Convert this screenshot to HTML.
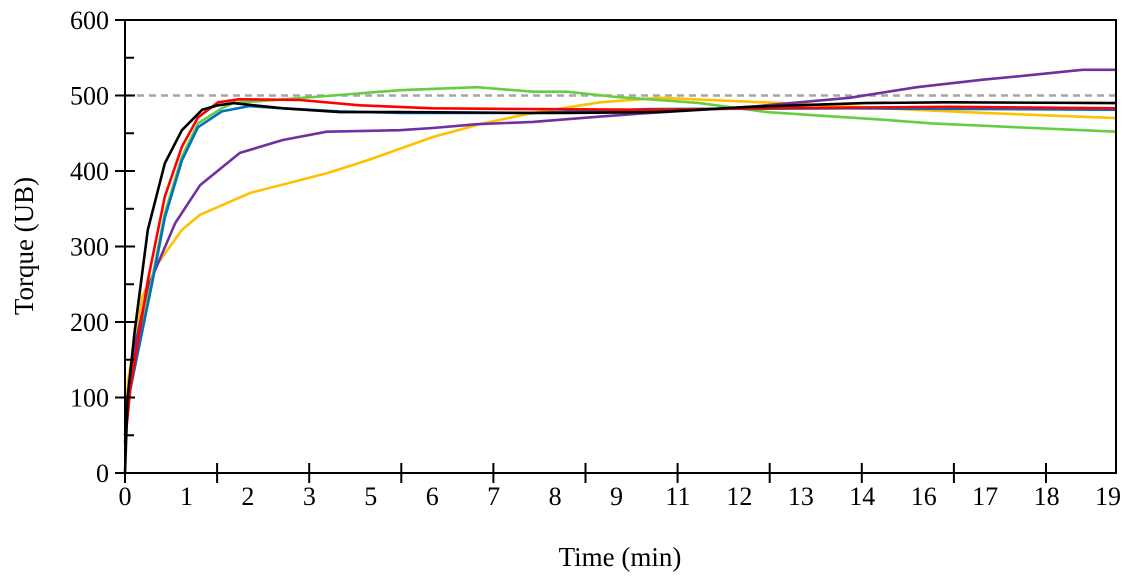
<!DOCTYPE html>
<html><head><meta charset="utf-8"><style>
body{margin:0;background:#fff}
svg{display:block;font-family:"Liberation Serif",serif}
</style></head><body>
<svg id="chart" width="1132" height="582" viewBox="0 0 1132 582" xmlns="http://www.w3.org/2000/svg">
<g id="plot"></g>
<text x="620" y="566" font-size="27" text-anchor="middle">Time (min)</text>
<text transform="translate(33,246) rotate(-90)" font-size="27" text-anchor="middle">Torque (UB)</text>
</svg>
<script>
const xLabels=["0","1","2","3","5","6","7","8","9","11","12","13","14","16","17","18","19"];
const yTicks=[0,100,200,300,400,500,600];
const refValue=500;
const blackT=[0,0.05,0.19,0.44,0.77,1.1,1.49,1.8,2.09,3.05,4.15,5.3,7.88,8.5,10.3,12.08,14.3,15.9,19.15];
const blackV=[0,100,189,322,410,454,481,487,490,483,478,478,477,477,478,485,490,491,490];
const redT=[0,0.1,0.44,0.77,1.1,1.41,1.8,2.2,3.38,4.54,5.95,7.88,10.3,12.08,15.9,19.15];
const redV=[40,110,255,366,432,471,491,495,494,487,483,482,481,483,485,483];
const blueT=[0,0.1,0.52,0.77,1.1,1.41,1.87,2.4,3.05,4.15,5.31,7.88,10.14,14.0,19.15];
const blueV=[50,110,250,338,414,458,479,486,483,479,477,477,482,483,481];
const greenT=[0,0.1,0.52,0.77,1.1,1.41,1.87,2.09,4.02,5.31,6.8,7.88,8.54,9.5,10.14,11.1,12.4,13.7,14.65,15.6,17.2,19.15];
const greenV=[50,115,256,344,419,463,483,490,500,507,511,505,505,498,495,490,478,472,468,463,458,452];
const purpleT=[0,0.19,0.44,0.97,1.45,2.22,3.05,3.9,5.31,5.95,6.8,7.88,9.18,10.14,12.08,14.0,15.3,16.6,17.5,18.5,19.15];
const purpleV=[66,167,246,331,381,424,441,452,454,457,462,465,472,477,485,497,511,521,527,534,534];
const yellowT=[0,0.06,0.33,0.64,1.1,1.45,2.42,3.9,4.68,5.95,6.92,7.88,9.18,10.34,12.7,14.65,16.6,19.15];
const yellowV=[40,123,233,278,322,342,371,397,414,445,463,477,491,497,490,483,477,470];
const series=[
 {name:"series-yellow",c:"#ffc000",t:yellowT,v:yellowV},
 {name:"series-purple",c:"#7030a0",t:purpleT,v:purpleV},
 {name:"series-green",c:"#66cc44",t:greenT,v:greenV},
 {name:"series-blue",c:"#0070c0",t:blueT,v:blueV},
 {name:"series-red",c:"#ff0000",t:redT,v:redV},
 {name:"series-black",c:"#000000",t:blackT,v:blackV}];
const X0=125,X1=1116,Y0=473,Y1=20,TMAX=19.15;
const sx=t=>X0+(t/TMAX)*(X1-X0);
const sy=v=>Y0-(v/600)*(Y0-Y1);
const g=document.getElementById('plot');
const NS="http://www.w3.org/2000/svg";
function mk(tag,attrs){const e=document.createElementNS(NS,tag);for(const k in attrs)e.setAttribute(k,attrs[k]);g.appendChild(e);return e;}
let ref=mk('line',{x1:X0,x2:X1,y1:sy(refValue),y2:sy(refValue),stroke:"#a6a6a6","stroke-width":2.5,"stroke-dasharray":"7,5"});


series.forEach(s=>{
 const d=s.t.map((t,i)=>(i?'L':'M')+sx(t).toFixed(1)+','+sy(s.v[i]).toFixed(1)).join(' ');
 const p=mk('path',{d:d,fill:"none",stroke:s.c,"stroke-width":2.6,"stroke-linejoin":"round"});
 
 
});
let ax=mk('path',{d:`M${X0},${Y1} L${X0},${Y0} L${X1},${Y0} L${X1},${Y1} L${X0},${Y1}`,fill:"none",stroke:"#000","stroke-width":2});


yTicks.forEach(v=>{
 const y=sy(v);
 const tk=mk('line',{x1:X0-10,x2:X0+10,y1:y,y2:y,stroke:"#000","stroke-width":2});
 
 
 const tx=mk('text',{x:X0-16,y:y+9,"font-size":26,"text-anchor":"end"});
 tx.textContent=v;
 
 
 if(v<600){const ym=sy(v+50);
  const mt=mk('line',{x1:X0,x2:X0+9,y1:ym,y2:ym,stroke:"#000","stroke-width":2});
  
  }
});
for(let i=0;i<=10;i++){
 const x=X0+i*92.1;
 const tk=mk('line',{x1:x,x2:x,y1:Y0-10,y2:Y0+10,stroke:"#000","stroke-width":2});
 
 
}
xLabels.forEach((l,i)=>{
 const x=X0+i*((1108-X0)/(xLabels.length-1));
 const tx=mk('text',{x:x,y:505,"font-size":26,"text-anchor":"middle"});
 tx.textContent=l;
 
 
});
</script>
</body></html>
